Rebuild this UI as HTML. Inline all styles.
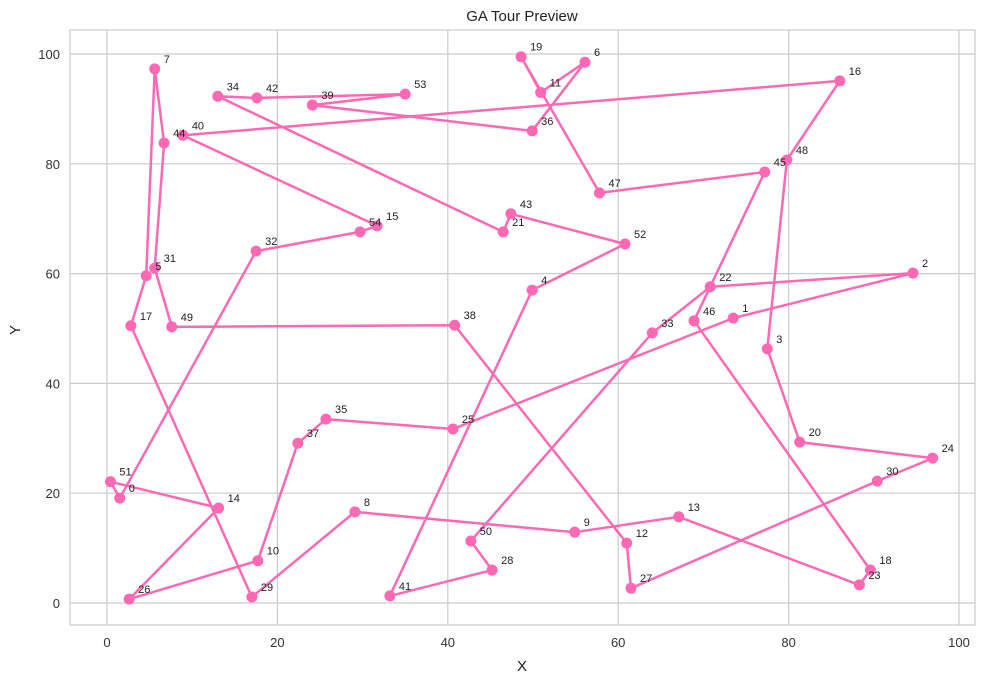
<!DOCTYPE html>
<html><head><meta charset="utf-8"><style>
body{margin:0;background:#fff;font-family:"Liberation Sans","DejaVu Sans",sans-serif;}
svg text{font-family:"Liberation Sans","DejaVu Sans",sans-serif;}
</style></head><body>
<svg id="chart" width="984" height="684" viewBox="0 0 984 684" xmlns="http://www.w3.org/2000/svg">
<rect width="984" height="684" fill="#fff"/>
<text x="522" y="21" text-anchor="middle" font-size="15" fill="#222">GA Tour Preview</text>
<text x="522" y="671" text-anchor="middle" font-size="15" fill="#222">X</text>
<text x="20" y="330" text-anchor="middle" font-size="15" fill="#222" transform="rotate(-90 20 330)">Y</text>
<g id="grid"></g><g id="ticks"></g><g id="tour"></g><g id="pts"></g><g id="lbls"></g>
<rect x="70" y="30" width="905" height="595" fill="none" stroke="#ccc" stroke-width="1.2"/>
</svg>
<script>
const pointIds = [0,1,2,3,4,5,6,7,8,9,10,11,12,13,14,15,16,17,18,19,20,21,22,23,24,25,26,27,28,29,30,31,32,33,34,35,36,37,38,39,40,41,42,43,44,45,46,47,48,49,50,51,52,53,54];
const xs = [1.5,73.5,94.6,77.5,49.9,4.6,56.1,5.6,29.1,54.9,17.7,50.9,61.0,67.1,13.1,31.7,86.0,2.8,89.6,48.6,81.3,46.5,70.8,88.3,96.9,40.6,2.6,61.5,45.2,17.0,90.4,5.6,17.5,64.0,13.0,25.7,49.9,22.4,40.8,24.1,8.9,33.2,17.6,47.4,6.7,77.2,68.9,57.8,79.8,7.6,42.7,0.4,60.8,35.0,29.7];
const ys = [19.1,51.9,60.1,46.3,57.0,59.6,98.5,97.3,16.6,12.9,7.7,93.0,10.9,15.7,17.3,68.7,95.1,50.5,6.0,99.5,29.3,67.6,57.6,3.3,26.4,31.7,0.7,2.7,6.0,1.1,22.2,61.0,64.1,49.2,92.3,33.5,86.0,29.1,50.6,90.7,85.2,1.3,92.0,70.9,83.8,78.5,51.4,74.7,80.7,50.3,11.3,22.1,65.4,92.7,67.6];
const tourOrder = [0,51,14,26,10,37,35,25,1,2,22,33,50,28,41,4,52,43,21,34,42,53,39,36,6,11,19,47,45,46,18,23,13,9,8,29,17,5,7,44,31,49,38,12,27,30,24,20,3,48,16,40,15,54,32];
const xTicks = [0,20,40,60,80,100];
const yTicks = [0,20,40,60,80,100];

const NS="http://www.w3.org/2000/svg";
const sx = v => 107 + v*8.52;
const sy = v => 603 - v*5.49;
function mk(tag, attrs, parent){const e=document.createElementNS(NS,tag);for(const k in attrs)e.setAttribute(k,attrs[k]);parent.appendChild(e);return e;}
const grid=document.getElementById('grid'), ticks=document.getElementById('ticks');
xTicks.forEach(t=>{
  const l=mk('line',{x1:sx(t),x2:sx(t),y1:30,y2:625,stroke:'#ccc','stroke-width':1.2},grid);
  
  
  const tx=mk('text',{x:sx(t),y:647,'text-anchor':'middle','font-size':13,fill:'#333'},ticks);
  tx.textContent=t;
  
  
});
yTicks.forEach(t=>{
  const l=mk('line',{x1:70,x2:975,y1:sy(t),y2:sy(t),stroke:'#ccc','stroke-width':1.2},grid);
  
  
  const tx=mk('text',{x:60,y:sy(t)+5,'text-anchor':'end','font-size':13,fill:'#333'},ticks);
  tx.textContent=t;
  
  
});
const d = tourOrder.map((id,i)=>(i?'L':'M')+sx(xs[id]).toFixed(1)+' '+sy(ys[id]).toFixed(1)).join(' ')+' Z';
const path=mk('path',{d:d,fill:'none',stroke:'#ff69b4','stroke-width':2.5,'stroke-linejoin':'round'},document.getElementById('tour'));


const pts=document.getElementById('pts'), lbls=document.getElementById('lbls');
pointIds.forEach(id=>{
  const c=mk('circle',{cx:sx(xs[id]),cy:sy(ys[id]),r:5.5,fill:'#ff69b4'},pts);
  
  
  const t=mk('text',{x:sx(xs[id])+9,y:sy(ys[id])-6,'font-size':11,fill:'#222'},lbls);
  t.textContent=id;
  
  
});
</script>
</body></html>
